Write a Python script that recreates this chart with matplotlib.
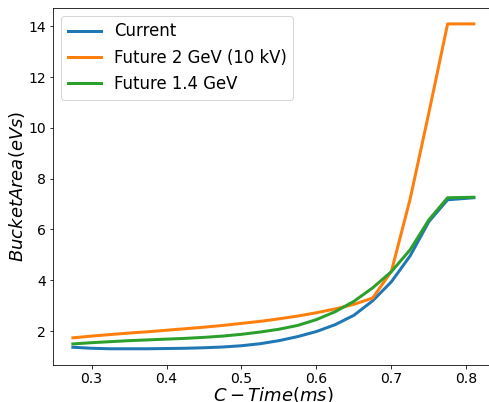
import numpy as np
import matplotlib
matplotlib.use("Agg")
import matplotlib.pyplot as plt

# cycle time (ms)
c_time = [0.275, 0.3, 0.325, 0.35, 0.375, 0.4, 0.425, 0.45, 0.475, 0.5, 0.525,
          0.55, 0.575, 0.6, 0.625, 0.65, 0.675, 0.7, 0.725, 0.75, 0.775, 0.81]

# bucket area (eVs)
current = [1.36, 1.32, 1.30, 1.30, 1.30, 1.31, 1.32, 1.34, 1.37, 1.42, 1.50,
           1.62, 1.78, 1.98, 2.25, 2.62, 3.19, 3.94, 4.96, 6.31, 7.17, 7.25]
future_2gev = [1.73, 1.80, 1.86, 1.92, 1.97, 2.03, 2.09, 2.15, 2.22, 2.30, 2.38,
               2.48, 2.59, 2.72, 2.87, 3.05, 3.30, 4.35, 7.20, 10.60, 14.10, 14.10]
future_14gev = [1.49, 1.54, 1.58, 1.62, 1.65, 1.68, 1.71, 1.75, 1.80, 1.87, 1.96,
                2.07, 2.22, 2.45, 2.76, 3.17, 3.70, 4.34, 5.20, 6.38, 7.25, 7.27]

labels = ["Current", "Future 2 GeV (10 kV)", "Future 1.4 GeV"]

DPI = 72
fig = plt.figure(figsize=(489 / DPI, 402 / DPI), dpi=DPI)
ax = fig.add_axes([0.108, 0.092, 0.902, 0.889])

for series, lab in zip([current, future_2gev, future_14gev], labels):
    ax.plot(c_time, series, linewidth=3, label=lab)

ax.set_xlabel("$C-Time(ms)$", fontsize=18, labelpad=-1.5)
ax.set_ylabel("$Bucket Area(eVs)$", fontsize=18, labelpad=1)
ax.tick_params(labelsize=14)
ax.legend(fontsize=16.5, loc="upper left")

fig.savefig("out.png", dpi=DPI)
